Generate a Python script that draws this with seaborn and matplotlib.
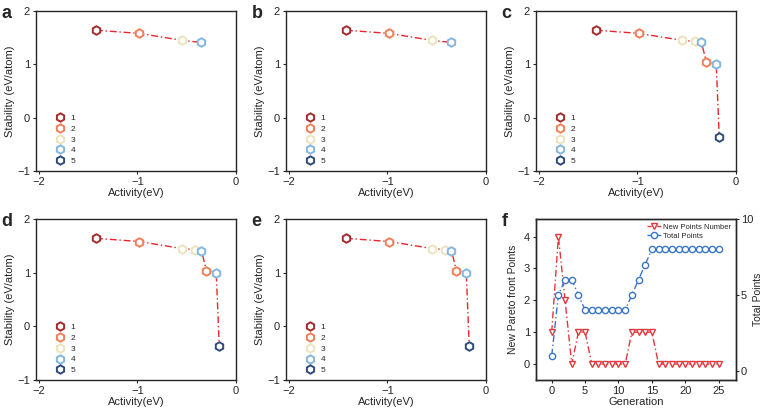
import matplotlib
matplotlib.use('Agg')
import matplotlib.pyplot as plt
import seaborn as sns
from matplotlib.lines import Line2D

# data
act_ab = [-1.42, -0.98, -0.55, -0.35]
stab_ab = [1.64, 1.58, 1.45, 1.41]
grp_ab = [1, 2, 3, 4]

act_cde = [-1.42, -0.98, -0.55, -0.42, -0.35, -0.30, -0.20, -0.17]
stab_cde = [1.64, 1.58, 1.45, 1.43, 1.41, 1.04, 1.00, -0.36]
grp_cde = [1, 2, 3, 3, 4, 2, 4, 5]

generation = list(range(26))
new_points = [1, 4, 2, 0, 1, 1, 0, 0, 0, 0, 0, 0, 1, 1, 1, 1,
              0, 0, 0, 0, 0, 0, 0, 0, 0, 0]
total_points = [1, 5, 6, 6, 5, 4, 4, 4, 4, 4, 4, 4, 5, 6, 7, 8,
                8, 8, 8, 8, 8, 8, 8, 8, 8, 8]

group_labels = ['1', '2', '3', '4', '5']
group_colors = ['#a62a2c', '#f07f58', '#ece3bd', '#84b6de', '#2d4a7a']
line_red = '#e8262b'

sns.set_style('ticks')
plt.rcParams['font.family'] = ['Liberation Sans', 'DejaVu Sans']
plt.rcParams['axes.linewidth'] = 1.0
plt.rcParams['axes.spines.top'] = True
plt.rcParams['axes.spines.right'] = True

fig = plt.figure(figsize=(7.63, 4.12), dpi=100)

lefts = [35.7 / 763, 285.7 / 763, 535.7 / 763]
w = 200.3 / 763
top_b, top_h = 1 - 171 / 412, 160 / 412
bot_b, bot_h = 1 - 380 / 412, 161 / 412

panels = [
    ('a', lefts[0], top_b, top_h, act_ab, stab_ab, grp_ab),
    ('b', lefts[1], top_b, top_h, act_ab, stab_ab, grp_ab),
    ('c', lefts[2], top_b, top_h, act_cde, stab_cde, grp_cde),
    ('d', lefts[0], bot_b, bot_h, act_cde, stab_cde, grp_cde),
    ('e', lefts[1], bot_b, bot_h, act_cde, stab_cde, grp_cde),
]


def pareto_panel(letter, left, bottom, height, xs, ys, grps):
    ax = fig.add_axes([left, bottom, w, height])
    sns.lineplot(x=xs, y=ys, ax=ax, sort=False, estimator=None,
                 color=line_red, linestyle=(0, (5, 2, 1, 2)), linewidth=1.0)
    for g, c in zip(range(1, 6), group_colors):
        px = [x for x, k in zip(xs, grps) if k == g]
        py = [y for y, k in zip(ys, grps) if k == g]
        if px:
            sns.scatterplot(x=px, y=py, ax=ax, marker='h', s=38,
                            facecolor='white', edgecolor=c, linewidth=1.4,
                            zorder=3)
    ax.set_xlim(-2.03, 0)
    ax.set_ylim(-1, 2)
    ax.set_xticks([-2, -1, 0])
    ax.set_yticks([-1, 0, 1, 2])
    ax.tick_params(labelsize=8, length=2.5, width=0.8, pad=1.5)
    ax.set_xlabel('Activity(eV)', fontsize=8, labelpad=1)
    ax.set_ylabel('Stability (eV/atom)', fontsize=8, labelpad=2)
    handles = [Line2D([], [], marker='h', ls='', mfc='white', mec=c,
                      mew=1.4, ms=6) for c in group_colors]
    ax.legend(handles, group_labels, loc='lower left',
              bbox_to_anchor=(0.05, 0.0), frameon=False, fontsize=6,
              handletextpad=0.3, labelspacing=0.35, borderaxespad=0.3)
    fig.text(left - 0.045, bottom + height - 0.005, letter,
             fontsize=13, fontweight='bold', va='center')
    return ax


for p in panels:
    pareto_panel(*p)

# panel f
ax = fig.add_axes([lefts[2], bot_b, w, bot_h])
sns.lineplot(x=generation, y=new_points, ax=ax, color='#e0393d',
             linestyle=(0, (5, 2, 1, 2)), linewidth=1.0, marker='v',
             markersize=5, markerfacecolor='white',
             markeredgecolor='#e0393d', markeredgewidth=1.0,
             label='New Points Number', legend=False)
ax.set_xlim(-2.4, 27.6)
ax.set_ylim(-0.5, 4.55)
ax.set_xticks([0, 5, 10, 15, 20, 25])
ax.set_yticks([0, 1, 2, 3, 4])
ax.tick_params(labelsize=8, length=2.5, width=0.8, pad=1.5)
ax.set_xlabel('Generation', fontsize=8, labelpad=1)
ax.set_ylabel('New Pareto front Points', fontsize=7.5, labelpad=4)

ax2 = ax.twinx()
sns.lineplot(x=generation, y=total_points, ax=ax2, color='#3a76c4',
             linestyle=(0, (5, 2, 1, 2)), linewidth=1.0, marker='o',
             markersize=4.5, markerfacecolor='white',
             markeredgecolor='#3a76c4', markeredgewidth=1.0,
             label='Total Points', legend=False)
ax2.set_ylim(-0.6, 10)
ax2.set_yticks([0, 5, 10])
ax2.tick_params(labelsize=8, length=2.5, width=0.8, pad=1.0)
ax2.set_ylabel('Total Points', fontsize=7.5, labelpad=0)

h1 = Line2D([], [], color='#e0393d', ls=(0, (3, 1.5, 1, 1.5)), lw=1.0,
            marker='v', ms=5, mfc='white', mec='#e0393d', mew=1.0)
h2 = Line2D([], [], color='#3a76c4', ls=(0, (3, 1.5, 1, 1.5)), lw=1.0,
            marker='o', ms=4.5, mfc='white', mec='#3a76c4', mew=1.0)
ax2.legend([h1, h2], ['New Points Number', 'Total Points'],
           loc='upper right', frameon=False, fontsize=5.5,
           handlelength=2.0, handletextpad=0.2, labelspacing=0.2,
           borderaxespad=0.2)
fig.text(lefts[2] - 0.045, bot_b + bot_h - 0.005, 'f',
         fontsize=13, fontweight='bold', va='center')

fig.savefig('out.png', dpi=100)
